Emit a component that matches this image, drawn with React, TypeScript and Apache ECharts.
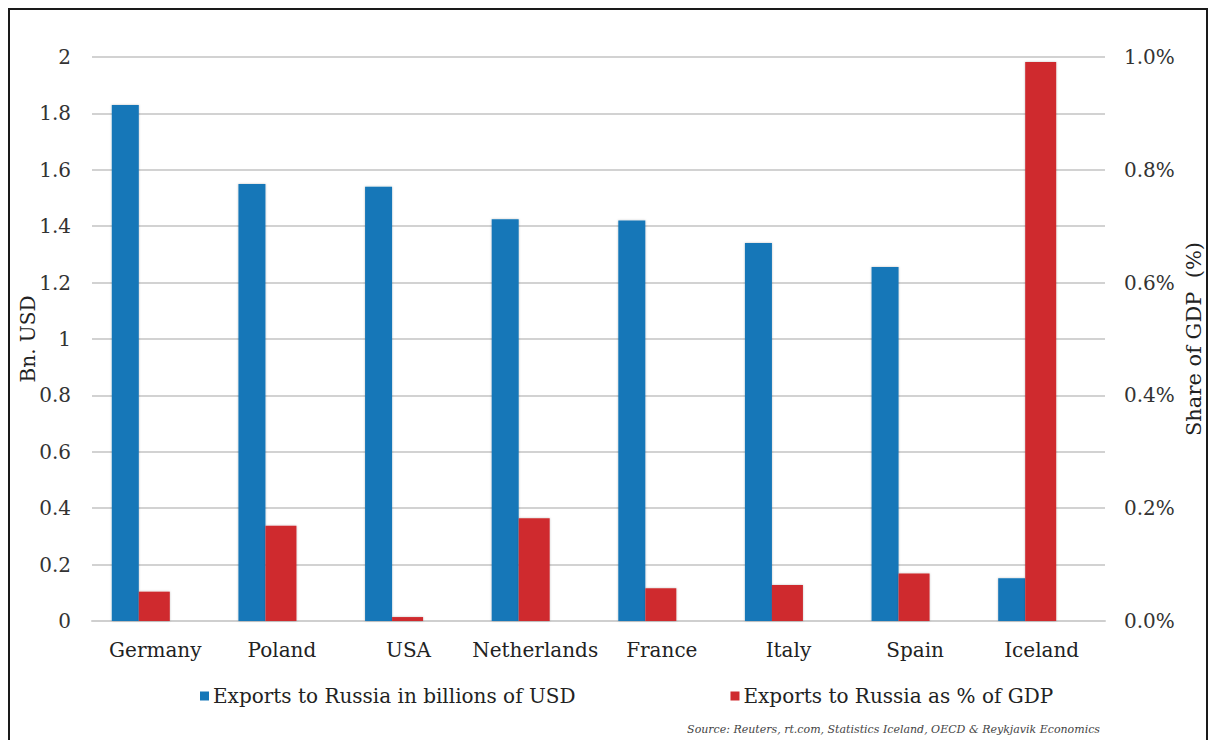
import React, { useEffect, useRef } from "react";
import * as echarts from "echarts";

// Exports to Russia by country
const countries = ["Germany", "Poland", "USA", "Netherlands", "France", "Italy", "Spain", "Iceland"];
const exportsBnUsd = [1.83, 1.55, 1.54, 1.425, 1.42, 1.34, 1.255, 0.152];
const exportsPctGdp = [0.052, 0.169, 0.007, 0.182, 0.058, 0.064, 0.084, 0.991];
const leftTicks = { min: 0, max: 2, interval: 0.2 };
const rightTicks = { min: 0, max: 1, interval: 0.2 };

const FONT = "'DejaVu Serif', 'Liberation Serif', serif";
const BLUE = "#1577B8";
const RED = "#CF2B2F";

export default function App() {
  const ref = useRef<HTMLDivElement>(null);

  useEffect(() => {
    if (!ref.current) return;
    const chart = echarts.init(ref.current, undefined, { renderer: "svg" });
    chart.setOption({
      animation: false,
      backgroundColor: "#ffffff",
      textStyle: { fontFamily: FONT },
      grid: {
        left: 82,
        right: 101,
        top: 47,
        bottom: 119,
        containLabel: false,
        outerBoundsMode: "none",
      },
      legend: {
        left: 185,
        top: 671,
        itemWidth: 9,
        itemHeight: 9,
        itemGap: 155,
        icon: "rect",
        data: ["Exports to Russia in billions of USD", "Exports to Russia as % of GDP"],
        textStyle: { fontFamily: FONT, fontSize: 20, color: "#222", padding: [0, 0, 0, -1] },
      },
      xAxis: {
        type: "category",
        data: countries,
        axisLine: { show: true, lineStyle: { color: "#cfcfcf", width: 2 } },
        axisTick: { show: false },
        axisLabel: { interval: 0, margin: 19, fontFamily: FONT, fontSize: 20, color: "#222" },
      },
      yAxis: [
        {
          type: "value",
          ...leftTicks,
          name: "Bn. USD",
          nameLocation: "middle",
          nameGap: 54,
          nameMoveOverlap: false,
          nameTextStyle: { fontFamily: FONT, fontSize: 20, color: "#222" },
          axisLine: { show: false },
          axisTick: { show: false },
          axisLabel: { margin: 21, fontFamily: FONT, fontSize: 20, color: "#333" },
          splitLine: { lineStyle: { color: "#d2d2d2", width: 2 } },
        },
        {
          type: "value",
          ...rightTicks,
          position: "right",
          name: "Share of GDP  (%)",
          nameLocation: "middle",
          nameGap: 78,
          nameMoveOverlap: false,
          nameTextStyle: { fontFamily: FONT, fontSize: 21, color: "#222" },
          axisLine: { show: false },
          axisTick: { show: false },
          axisLabel: {
            margin: 19,
            fontFamily: FONT,
            fontSize: 20,
            color: "#333",
            formatter: (v: number) => v.toFixed(1) + "%",
          },
          splitLine: { show: false },
        },
      ],
      series: [
        {
          name: "Exports to Russia in billions of USD",
          type: "bar",
          yAxisIndex: 0,
          data: exportsBnUsd,
          barWidth: 27,
          barGap: "0%",
          itemStyle: { color: BLUE, shadowBlur: 2, shadowColor: "rgba(0,0,0,0.25)" },
        },
        {
          name: "Exports to Russia as % of GDP",
          type: "bar",
          yAxisIndex: 1,
          data: exportsPctGdp,
          barWidth: 31,
          barGap: "0%",
          itemStyle: { color: RED, shadowBlur: 2, shadowColor: "rgba(0,0,0,0.25)" },
        },
        {
          // empty slot that keeps the pair of bars left of the category centre
          name: "spacer",
          type: "bar",
          yAxisIndex: 0,
          data: countries.map(() => null),
          barWidth: 29,
          barGap: "0%",
          itemStyle: { color: "transparent" },
          silent: true,
        },
      ],
      graphic: [
        {
          type: "text",
          right: 106,
          top: 714,
          style: {
            text: "Source: Reuters, rt.com, Statistics Iceland, OECD & Reykjavik Economics",
            fontFamily: FONT,
            fontStyle: "italic",
            fontSize: 11,
            fill: "#444",
          },
        },
      ],
    });
    return () => chart.dispose();
  }, []);

  return (
    <div
      style={{
        position: "fixed",
        left: 8,
        top: 8,
        width: 1196,
        height: 740,
        border: "2px solid #1a1a1a",
        borderBottom: "none",
        background: "#fff",
      }}
    >
      <div ref={ref} style={{ width: 1196, height: 730 }} />
    </div>
  );
}
